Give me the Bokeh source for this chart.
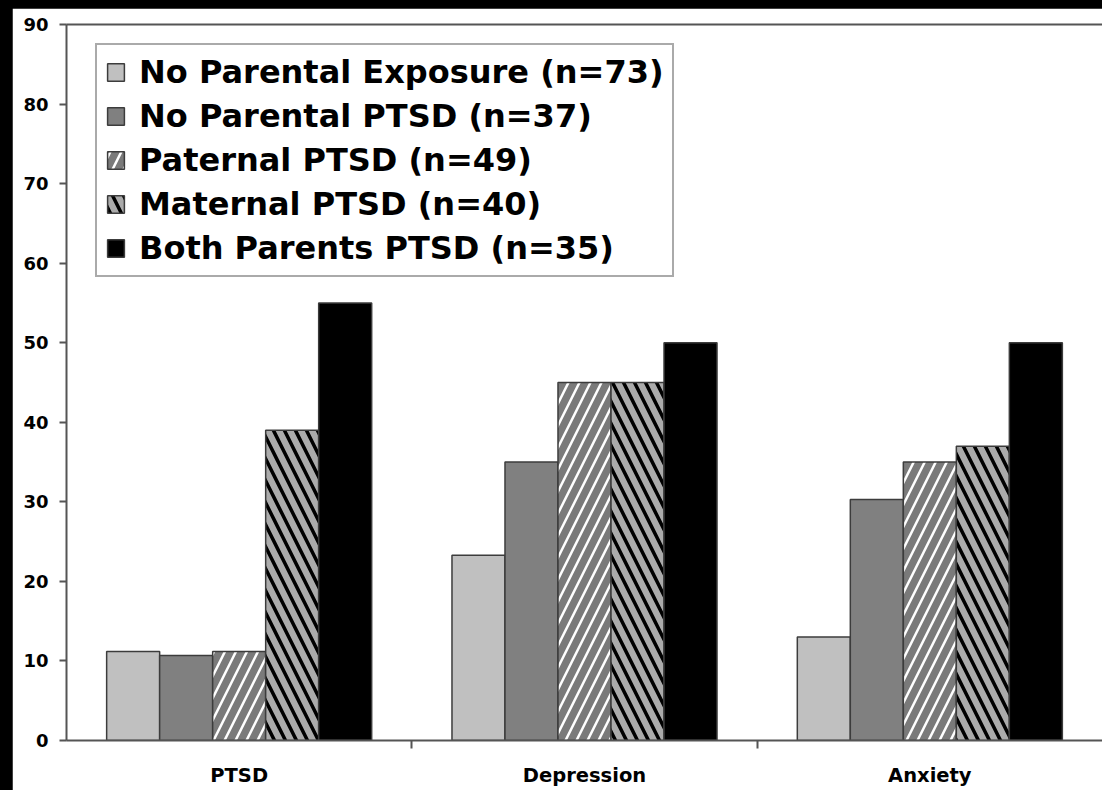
import numpy as np
from bokeh.plotting import figure
from bokeh.models import ColumnDataSource, Range1d, LinearAxis, FixedTicker, Legend, LegendItem
from bokeh.transform import dodge
from bokeh.core.properties import value
from bokeh.embed import file_html
from bokeh.resources import INLINE

# ---- data ----
categories = ["PTSD", "Depression", "Anxiety"]
series_names = [
    "No Parental Exposure (n=73)",
    "No Parental PTSD (n=37)",
    "Paternal PTSD (n=49)",
    "Maternal PTSD (n=40)",
    "Both Parents PTSD (n=35)",
]
no_exposure = [11.2, 23.3, 13.0]
no_ptsd = [10.7, 35.0, 30.3]
paternal = [11.2, 45.0, 35.0]
maternal = [39.0, 45.0, 37.0]
both = [55.0, 50.0, 50.0]
y_ticks = [0, 10, 20, 30, 40, 50, 60, 70, 80, 90]

series_keys = ["no_exposure", "no_ptsd", "paternal", "maternal", "both"]
centers = [float(c) for c in np.arange(len(categories)) + 0.5]
boundaries = [float(b) for b in np.arange(1, len(categories))]

src = ColumnDataSource(dict(x=centers, no_exposure=no_exposure, no_ptsd=no_ptsd,
                            paternal=paternal, maternal=maternal, both=both))

BAR_W = 0.1535
FONT = "DejaVu Sans"
AXIS_COLOR = "#555555"

p = figure(width=1090, height=782,
           x_range=Range1d(0, len(categories)), y_range=Range1d(0, 90),
           x_axis_type=None, y_axis_type=None,
           output_backend="svg", toolbar_location=None,
           min_border_left=54, min_border_right=0, min_border_top=16, min_border_bottom=50,
           outline_line_color=None, background_fill_color="white", border_fill_color="white")

styles = [
    dict(fill_color="#c0c0c0"),
    dict(fill_color="#808080"),
    dict(fill_color="#7a7a7a", hatch_pattern="right_diagonal_line", hatch_color="white",
         hatch_scale=22, hatch_weight=2.5),
    dict(fill_color="#ababab", hatch_pattern="left_diagonal_line", hatch_color="black",
         hatch_scale=22, hatch_weight=3.5),
    dict(fill_color="#000000"),
]

renderers = []
for i, key in enumerate(series_keys):
    r = p.vbar(x=dodge("x", (i - 2) * BAR_W), top=key, width=BAR_W, source=src,
               line_color="#3c3c3c", line_width=1.5, **styles[i])
    renderers.append(r)

# y axis
yaxis = LinearAxis(ticker=FixedTicker(ticks=y_ticks),
                   axis_line_color=AXIS_COLOR, axis_line_width=2,
                   major_tick_out=7, major_tick_in=0,
                   major_tick_line_color=AXIS_COLOR, major_tick_line_width=2,
                   minor_tick_out=0, minor_tick_in=0,
                   major_label_text_font=FONT, major_label_text_font_style="bold",
                   major_label_text_font_size="18px", major_label_text_color="black",
                   major_label_standoff=11)
p.add_layout(yaxis, "left")

# x axis: labels at category centres, ticks at category boundaries
xaxis = LinearAxis(ticker=FixedTicker(ticks=centers, minor_ticks=boundaries),
                   major_label_overrides={c: cat for c, cat in zip(centers, categories)},
                   axis_line_color=AXIS_COLOR, axis_line_width=2,
                   major_tick_out=0, major_tick_in=0,
                   minor_tick_out=8, minor_tick_in=0,
                   minor_tick_line_color=AXIS_COLOR, minor_tick_line_width=2,
                   major_label_text_font=FONT, major_label_text_font_style="bold",
                   major_label_text_font_size="19.5px", major_label_text_color="black",
                   major_label_standoff=15)
p.add_layout(xaxis, "below")

# top border line
top_axis = LinearAxis(ticker=FixedTicker(ticks=[]),
                      axis_line_color=AXIS_COLOR, axis_line_width=2,
                      major_tick_out=0, major_tick_in=0, minor_tick_out=0, minor_tick_in=0,
                      major_label_text_font_size="0px", major_label_standoff=0)
p.add_layout(top_axis, "above")

legend = Legend(items=[LegendItem(label=value(n), renderers=[r]) for n, r in zip(series_names, renderers)],
                location=(29, 463), margin=0, padding=8, spacing=6,
                glyph_width=21, glyph_height=22, label_standoff=13, label_height=22,
                label_text_font=FONT, label_text_font_style="bold",
                label_text_font_size="32px", label_text_color="black",
                border_line_color=AXIS_COLOR, border_line_width=2,
                background_fill_color="white", background_fill_alpha=1)
p.add_layout(legend)

tpl = ("{% block preamble %}<style>html,body{background:#000 !important;overflow:hidden !important;}"
       "body{margin:8px 0 0 12px !important;}</style>{% endblock %}")
open("out.html", "w").write(file_html(p, INLINE, template=tpl))
